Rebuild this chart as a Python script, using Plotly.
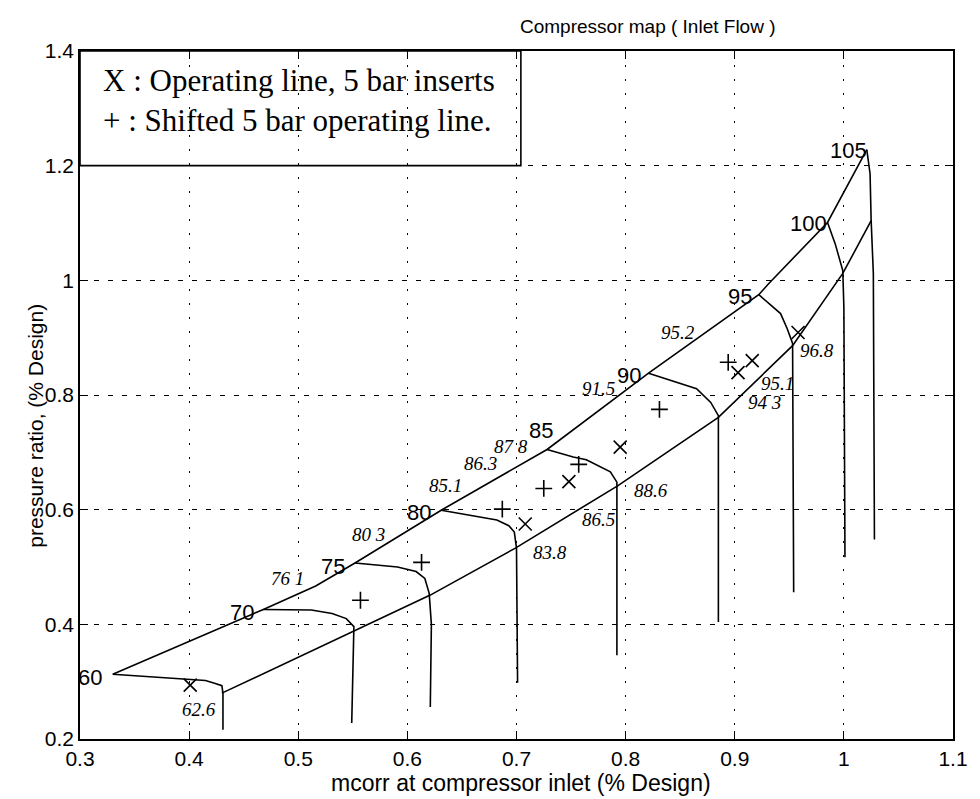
import plotly.graph_objects as go

# ---------------- data ----------------
speed_60_x = [0.330, 0.403, 0.415, 0.424, 0.430, 0.431, 0.431]
speed_60_y = [0.313, 0.304, 0.302, 0.297, 0.293, 0.280, 0.216]
speed_70_x = [0.468, 0.512, 0.531, 0.544, 0.551, 0.550, 0.549]
speed_70_y = [0.426, 0.425, 0.419, 0.410, 0.396, 0.300, 0.228]
speed_75_x = [0.552, 0.591, 0.608, 0.616, 0.620, 0.622, 0.621]
speed_75_y = [0.507, 0.500, 0.492, 0.480, 0.454, 0.400, 0.256]
speed_80_x = [0.631, 0.661, 0.682, 0.693, 0.698, 0.700, 0.701]
speed_80_y = [0.599, 0.589, 0.582, 0.572, 0.561, 0.533, 0.298]
speed_85_x = [0.728, 0.752, 0.764, 0.786, 0.792, 0.792]
speed_85_y = [0.705, 0.692, 0.687, 0.666, 0.648, 0.346]
speed_90_x = [0.821, 0.846, 0.865, 0.878, 0.885, 0.885]
speed_90_y = [0.838, 0.822, 0.811, 0.787, 0.764, 0.404]
speed_95_x = [0.922, 0.942, 0.948, 0.953, 0.954]
speed_95_y = [0.975, 0.942, 0.916, 0.890, 0.456]
speed_100_x = [0.985, 0.992, 0.999, 1.000, 1.001]
speed_100_y = [1.101, 1.064, 1.017, 0.953, 0.517]
speed_105_x = [1.021, 1.024, 1.025, 1.027, 1.028]
speed_105_y = [1.228, 1.186, 1.104, 1.012, 0.548]

surge_x = [0.330, 0.468, 0.516, 0.552, 0.631, 0.728, 0.821, 0.922, 0.931, 0.985, 1.021]
surge_y = [0.313, 0.426, 0.467, 0.507, 0.599, 0.705, 0.838, 0.975, 0.994, 1.101, 1.228]
lower_x = [0.430, 0.550, 0.621, 0.699, 0.793, 0.885, 0.953, 0.999, 1.025]
lower_y = [0.280, 0.388, 0.451, 0.533, 0.642, 0.761, 0.886, 1.012, 1.104]

op_x = [0.401, 0.708, 0.748, 0.795, 0.903, 0.916, 0.958]
op_y = [0.294, 0.575, 0.649, 0.709, 0.839, 0.860, 0.909]
shift_x = [0.557, 0.613, 0.687, 0.725, 0.757, 0.831, 0.894]
shift_y = [0.442, 0.508, 0.601, 0.637, 0.679, 0.775, 0.857]

speed_labels = ["60", "70", "75", "80", "85", "90", "95", "100", "105"]
speed_label_x = [0.3096, 0.448, 0.532, 0.611, 0.722, 0.803, 0.905, 0.968, 1.004]
speed_label_y = [0.308, 0.421, 0.501, 0.595, 0.738, 0.834, 0.972, 1.099, 1.226]

eff_labels = ["62.6", "76 1", "80 3", "85.1", "86.3", "87 8", "91.5", "95.2",
              "83.8", "86.5", "88.6", "95.1", "94 3", "96.8"]
eff_x = [0.409, 0.490, 0.564, 0.635, 0.667, 0.695, 0.775, 0.848,
         0.731, 0.775, 0.823, 0.939, 0.927, 0.975]
eff_y = [0.251, 0.480, 0.557, 0.643, 0.681, 0.710, 0.811, 0.909,
         0.526, 0.582, 0.634, 0.820, 0.787, 0.878]

legend_lines = ["X : Operating line, 5 bar inserts", "+ : Shifted 5 bar operating line."]

x_ticks = [0.3, 0.4, 0.5, 0.6, 0.7, 0.8, 0.9, 1.0, 1.1]
x_tick_text = ["0.3", "0.4", "0.5", "0.6", "0.7", "0.8", "0.9", "1", "1.1"]
y_ticks = [0.2, 0.4, 0.6, 0.8, 1.0, 1.2, 1.4]
y_tick_text = ["0.2", "0.4", "0.6", "0.8", "1", "1.2", "1.4"]

# ---------------- figure ----------------
SANS = "Liberation Sans, Arial, Helvetica, sans-serif"
SERIF = "Liberation Serif, Times New Roman, serif"
LW = 1.6

fig = go.Figure()
speeds = [(speed_60_x, speed_60_y), (speed_70_x, speed_70_y), (speed_75_x, speed_75_y),
          (speed_80_x, speed_80_y), (speed_85_x, speed_85_y), (speed_90_x, speed_90_y),
          (speed_95_x, speed_95_y), (speed_100_x, speed_100_y), (speed_105_x, speed_105_y)]
for sx, sy in speeds:
    fig.add_trace(go.Scatter(x=sx, y=sy, mode="lines", line=dict(color="black", width=LW),
                             showlegend=False, hoverinfo="skip"))
fig.add_trace(go.Scatter(x=surge_x, y=surge_y, mode="lines", line=dict(color="black", width=LW),
                         showlegend=False, hoverinfo="skip"))
fig.add_trace(go.Scatter(x=lower_x, y=lower_y, mode="lines", line=dict(color="black", width=LW),
                         showlegend=False, hoverinfo="skip"))
fig.add_trace(go.Scatter(x=op_x, y=op_y, mode="markers",
                         marker=dict(symbol="x-thin", size=13, line=dict(color="black", width=1.6)),
                         showlegend=False))
fig.add_trace(go.Scatter(x=shift_x, y=shift_y, mode="markers",
                         marker=dict(symbol="cross-thin", size=12, line=dict(color="black", width=1.6)),
                         showlegend=False))

annotations = []
for t, x, y in zip(speed_labels, speed_label_x, speed_label_y):
    annotations.append(dict(x=x, y=y, xref="x", yref="y", text=t, showarrow=False,
                            font=dict(family=SANS, size=22, color="black"),
                            xanchor="center", yanchor="middle"))
for t, x, y in zip(eff_labels, eff_x, eff_y):
    annotations.append(dict(x=x, y=y, xref="x", yref="y", text="<i>" + t + "</i>", showarrow=False,
                            font=dict(family=SERIF, size=19, color="black"),
                            xanchor="center", yanchor="middle"))
for i, t in enumerate(legend_lines):
    annotations.append(dict(x=0.319, y=1.349 - i * 0.070, xref="x", yref="y", text=t, showarrow=False,
                            font=dict(family=SERIF, size=31, color="black"),
                            xanchor="left", yanchor="middle"))
annotations.append(dict(x=0.651, y=1.036, xref="paper", yref="paper",
                        text="Compressor map ( Inlet Flow )", showarrow=False,
                        font=dict(family=SANS, size=19, color="black"),
                        xanchor="center", yanchor="middle"))
annotations.append(dict(x=0.5046, y=-0.064, xref="paper", yref="paper",
                        text="mcorr at compressor inlet (% Design)", showarrow=False,
                        font=dict(family=SANS, size=23, color="black"),
                        xanchor="center", yanchor="middle"))
annotations.append(dict(x=-0.051, y=0.456, xref="paper", yref="paper",
                        text="pressure ratio, (% Design)", showarrow=False, textangle=-90,
                        font=dict(family=SANS, size=21, color="black"),
                        xanchor="center", yanchor="middle"))

fig.add_shape(type="rect", xref="x", yref="y", x0=0.3, x1=0.704, y0=1.2, y1=1.4,
              line=dict(color="black", width=1.6), fillcolor="rgba(0,0,0,0)")

axis_common = dict(showline=True, linecolor="black", linewidth=1.6, mirror="ticks",
                   ticks="inside", ticklen=8, tickwidth=1.2, tickcolor="black",
                   showgrid=True, gridcolor="black", gridwidth=1, zeroline=False,
                   tickfont=dict(family=SANS, size=21, color="black"))
fig.update_xaxes(range=[0.3, 1.1], tickvals=x_ticks, ticktext=x_tick_text,
                 griddash="2px,12px", **axis_common)
fig.update_yaxes(range=[0.2, 1.4], tickvals=y_ticks, ticktext=y_tick_text,
                 griddash="5px,9px", **axis_common)

fig.update_layout(width=980, height=799, margin=dict(l=80, r=22, t=51, b=60),
                  plot_bgcolor="white", paper_bgcolor="white",
                  annotations=annotations, showlegend=False)

fig.write_html("out.html")
